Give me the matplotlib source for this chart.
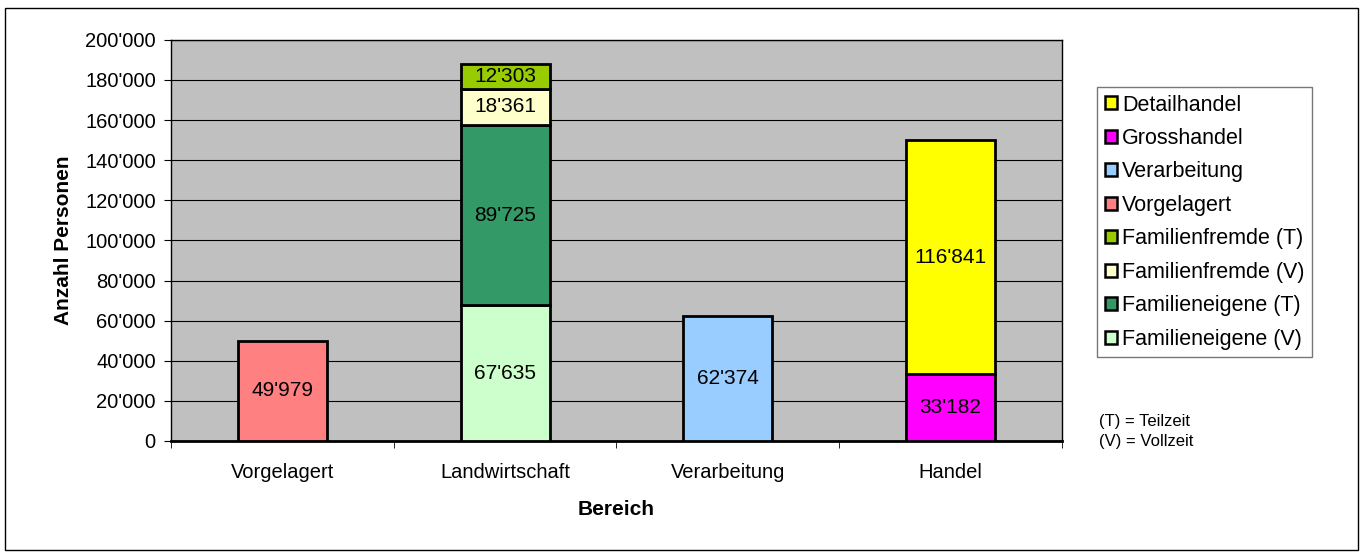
import matplotlib
matplotlib.use("Agg")
import matplotlib.pyplot as plt
from matplotlib.patches import Patch, Rectangle
import numpy as np

plt.rcParams["font.family"] = ["Liberation Sans", "DejaVu Sans"]

categories = ["Vorgelagert", "Landwirtschaft", "Verarbeitung", "Handel"]

# (series name, category index, value) in stacking order bottom -> top
series_names = ["Familieneigene (V)", "Familieneigene (T)", "Familienfremde (V)",
                "Familienfremde (T)", "Vorgelagert", "Verarbeitung",
                "Grosshandel", "Detailhandel"]
series_cat = [1, 1, 1, 1, 0, 2, 3, 3]
series_vals = [67635, 89725, 18361, 12303, 49979, 62374, 33182, 116841]
series_colors = ["#CCFFCC", "#339966", "#FFFFCC", "#99CC00", "#FF8080",
                 "#99CCFF", "#FF00FF", "#FFFF00"]

yticks = np.arange(0, 200001, 20000)


def fmt(v):
    return f"{int(v):,}".replace(",", "'")


fig = plt.figure(figsize=(13.63, 5.54), dpi=100)
fig.patches.append(Rectangle((0.004, 0.008), 0.992, 0.978, transform=fig.transFigure,
                             fill=False, edgecolor="black", linewidth=1.0))
ax = fig.add_axes([0.1255, 0.204, 0.6535, 0.724])
ax.set_facecolor("#C0C0C0")

bottoms = np.zeros(len(categories))
w = 0.4
for name, ci, v, c in zip(series_names, series_cat, series_vals, series_colors):
    ax.bar(ci, v, w, bottom=bottoms[ci], color=c, edgecolor="black", linewidth=2.0,
           zorder=3)
    ax.text(ci, bottoms[ci] + v / 2, fmt(v), ha="center", va="center",
            fontsize=15, zorder=4)
    bottoms[ci] += v

ax.set_ylim(0, 200000)
ax.set_xlim(-0.5, len(categories) - 0.5)
ax.set_yticks(yticks)
ax.set_yticklabels([fmt(t) for t in yticks], fontsize=14.5)
ax.yaxis.grid(True, color="black", linewidth=0.8, zorder=0)
ax.set_axisbelow(True)

ax.set_xticks(np.arange(len(categories)))
ax.set_xticklabels(categories, fontsize=14.5)
ax.tick_params(axis="x", which="major", length=0, pad=16)
ax.set_xticks(np.arange(-0.5, len(categories)), minor=True)
ax.tick_params(axis="x", which="minor", length=5)
ax.tick_params(axis="y", length=5, pad=6)
for s in ax.spines.values():
    s.set_linewidth(1.0)
ax.spines["bottom"].set_linewidth(2.0)

ax.set_xlabel("Bereich", fontsize=15, fontweight="bold", labelpad=13)
ax.set_ylabel("Anzahl Personen", fontsize=15, fontweight="bold", labelpad=9)

handles = [Patch(facecolor=c, edgecolor="black", linewidth=1.8, label=n)
           for n, c in zip(series_names, series_colors)][::-1]
leg = fig.legend(handles=handles, loc="upper left", bbox_to_anchor=(0.805, 0.843),
                 fontsize=15.5, frameon=True, fancybox=False, edgecolor="#555555",
                 handlelength=0.55, handleheight=0.55, handletextpad=0.25,
                 labelspacing=0.58, borderpad=0.35, borderaxespad=0)
leg.get_frame().set_linewidth(1.0)

fig.text(0.806, 0.252, "(T) = Teilzeit\n(V) = Vollzeit", fontsize=12, va="top",
         linespacing=1.35)

fig.savefig("out.png", dpi=100)
